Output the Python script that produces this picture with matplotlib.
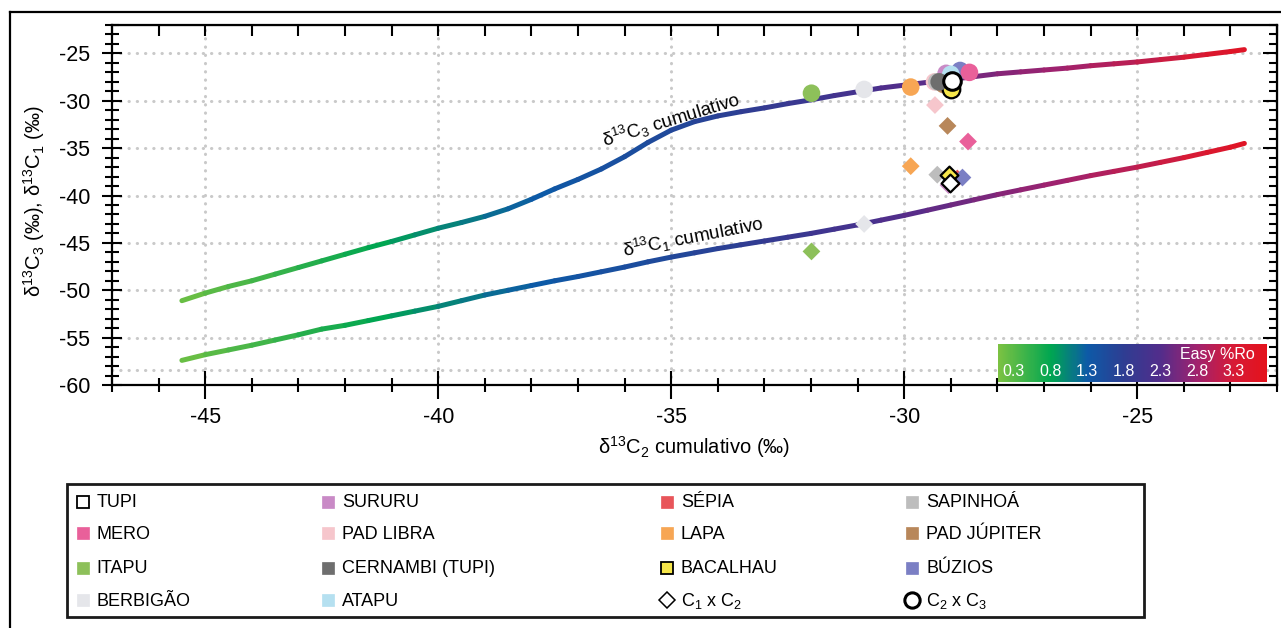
import numpy as np
import matplotlib
matplotlib.use('Agg')
import matplotlib.pyplot as plt
from matplotlib import font_manager
from matplotlib.collections import LineCollection
from matplotlib.colors import LinearSegmentedColormap, Normalize
from matplotlib.cm import ScalarMappable

# curvas cumulativas: d13C2 no eixo x, d13C3 e d13C1 no eixo y
c2_curve = [-45.5, -45.0, -44.5, -44.0, -43.5, -43.0, -42.5, -42.0, -41.5, -41.0,
            -40.5, -40.0, -39.5, -39.0, -38.5, -38.0, -37.5, -37.0, -36.5, -36.0,
            -35.5, -35.0, -34.5, -34.0, -33.5, -33.0, -32.5, -32.0, -31.5, -31.0,
            -30.5, -30.0, -29.5, -29.0, -28.5, -28.0, -27.5, -27.0, -26.5, -26.0,
            -25.5, -25.0, -24.5, -24.0, -23.5, -23.0, -22.7]
c3_curve = [-51.1, -50.3, -49.6, -49.0, -48.3, -47.6, -46.9, -46.2, -45.5, -44.85,
            -44.15, -43.45, -42.85, -42.2, -41.4, -40.4, -39.3, -38.3, -37.2, -35.9,
            -34.4, -33.1, -32.2, -31.6, -31.15, -30.75, -30.3, -29.9, -29.45, -29.05,
            -28.65, -28.35, -28.05, -27.75, -27.45, -27.15, -26.95, -26.75, -26.55, -26.3,
            -26.1, -25.9, -25.65, -25.4, -25.1, -24.8, -24.6]
c1_curve = [-57.4, -56.8, -56.3, -55.8, -55.25, -54.7, -54.1, -53.7, -53.2, -52.7,
            -52.2, -51.7, -51.1, -50.5, -50.0, -49.5, -49.0, -48.55, -48.05, -47.55,
            -47.0, -46.5, -46.05, -45.6, -45.2, -44.8, -44.4, -44.0, -43.55, -43.1,
            -42.6, -42.1, -41.55, -41.0, -40.45, -39.9, -39.4, -38.9, -38.4, -37.9,
            -37.45, -37.0, -36.5, -36.0, -35.45, -34.9, -34.5]
ro_curve = [0.15, 0.25, 0.32, 0.4, 0.47, 0.55, 0.62, 0.7, 0.77, 0.85,
            0.92, 1.0, 1.07, 1.15, 1.22, 1.28, 1.34, 1.4, 1.45, 1.5,
            1.55, 1.6, 1.66, 1.72, 1.79, 1.86, 1.93, 2.0, 2.08, 2.15,
            2.22, 2.3, 2.37, 2.45, 2.52, 2.6, 2.67, 2.75, 2.82, 2.9,
            2.97, 3.05, 3.15, 3.25, 3.37, 3.5, 3.6]

fields = ['TUPI', 'SURURU', 'SÉPIA', 'SAPINHOÁ', 'MERO', 'PAD LIBRA', 'LAPA',
          'PAD JÚPITER', 'ITAPU', 'CERNAMBI (TUPI)', 'BACALHAU', 'BÚZIOS',
          'BERBIGÃO', 'ATAPU']
field_colors = ['#ffffff', '#c98ac6', '#e8555a', '#bdbdbd', '#e9609a', '#f6c6cc',
                '#f7a654', '#b8875a', '#8dc05a', '#6e6e6e', '#f6e64a', '#7b7fc4',
                '#e5e6ea', '#b5e0f0']
edge_fields = ['TUPI', 'BACALHAU']

# C2 x C3 (circulos)
c2c3_x = [-28.98, -29.1, -29.05, -29.3, -28.6, -29.35, -29.86, -29.15, -31.99, -29.25,
          -29.0, -28.8, -30.86, -29.0]
c2c3_y = [-27.9, -27.1, -27.3, -28.0, -27.0, -28.0, -28.55, -28.3, -29.2, -28.0,
          -28.75, -26.8, -28.8, -27.2]
# C1 x C2 (losangos)
c1c2_x = [-29.02, -29.05, -28.86, -29.29, -28.63, -29.34, -29.86, -29.07, -31.99, -29.0,
          -29.04, -28.75, -30.86, -29.0]
c1c2_y = [-38.7, -38.9, -38.2, -37.8, -34.3, -30.45, -36.9, -32.65, -45.9, -38.5,
          -37.85, -38.1, -43.0, -38.4]
circle_order = ['SÉPIA', 'SURURU', 'BÚZIOS', 'MERO', 'ATAPU', 'PAD LIBRA', 'SAPINHOÁ',
                'PAD JÚPITER', 'BACALHAU', 'CERNAMBI (TUPI)', 'TUPI', 'ITAPU',
                'BERBIGÃO', 'LAPA']
diamond_order = ['ATAPU', 'CERNAMBI (TUPI)', 'SURURU', 'SAPINHOÁ', 'SÉPIA', 'BÚZIOS',
                 'BACALHAU', 'TUPI', 'MERO', 'PAD LIBRA', 'LAPA', 'PAD JÚPITER',
                 'ITAPU', 'BERBIGÃO']

ro_ticks = [0.3, 0.8, 1.3, 1.8, 2.3, 2.8, 3.3]
ro_stops = [0.08, 0.8, 1.3, 1.8, 2.3, 2.8, 3.3, 3.75]
ro_colors = ['#7cc242', '#00a651', '#0d5aa7', '#2e3d92', '#522d8b', '#a0226e',
             '#d71a36', '#e4121c']

legend_cols = [['TUPI', 'MERO', 'ITAPU', 'BERBIGÃO'],
               ['SURURU', 'PAD LIBRA', 'CERNAMBI (TUPI)', 'ATAPU'],
               ['SÉPIA', 'LAPA', 'BACALHAU', 'C1xC2'],
               ['SAPINHOÁ', 'PAD JÚPITER', 'BÚZIOS', 'C2xC3']]

names = {f.name for f in font_manager.fontManager.ttflist}
narrow = 'Liberation Sans Narrow' if 'Liberation Sans Narrow' in names else 'Liberation Sans'
plt.rcParams['font.family'] = ['Liberation Sans', 'DejaVu Sans']
plt.rcParams['mathtext.fontset'] = 'custom'
plt.rcParams['mathtext.rm'] = 'Liberation Sans'
plt.rcParams['mathtext.it'] = 'Liberation Sans:italic'
plt.rcParams['mathtext.bf'] = 'Liberation Sans:bold'
plt.rcParams['axes.unicode_minus'] = False

W, H = 1281, 628
fig = plt.figure(figsize=(W / 100, H / 100), dpi=100)
ax = fig.add_axes([112 / W, 1 - 385 / H, 1165 / W, 360 / H])
ax.set_xlim(-47, -22)
ax.set_ylim(-60, -22)

cmap = LinearSegmentedColormap.from_list(
    'easyro', [((r - ro_stops[0]) / (ro_stops[-1] - ro_stops[0]), c) for r, c in zip(ro_stops, ro_colors)])
norm = Normalize(ro_stops[0], ro_stops[-1])

# grade pontilhada
gkw = dict(color='#c9c9c9', lw=2.2, linestyle=(0, (0.1, 2.6)), dash_capstyle='round', zorder=0)
ax.set_xticks(np.arange(-45, -24, 5))
ax.set_yticks(np.arange(-60, -24, 5))
ax.set_xticks(np.arange(-47, -21, 1), minor=True)
ax.set_yticks(np.arange(-60, -21, 1), minor=True)
for v in np.arange(-45, -24, 5):
    ax.axvline(v, **gkw)
for v in np.arange(-55, -24, 5):
    ax.axhline(v, **gkw)
ax.axhline(-58.4, **gkw)

ro = np.array(ro_curve)
ro_mid = (ro[:-1] + ro[1:]) / 2
for yc in (c3_curve, c1_curve):
    pts = np.column_stack([c2_curve, yc])
    segs = np.stack([pts[:-1], pts[1:]], axis=1)
    lc = LineCollection(segs, cmap=cmap, norm=norm, linewidths=3.6, capstyle='round',
                        joinstyle='round', zorder=2)
    lc.set_array(ro_mid)
    ax.add_collection(lc)

z = 3
for f in diamond_order:
    i = fields.index(f)
    ec = 'k' if f in edge_fields else 'none'
    ax.scatter(c1c2_x[i], c1c2_y[i], s=82, marker='D', c=field_colors[i],
               edgecolors=ec, linewidths=1.6, zorder=z)
    z += 0.01
for f in circle_order:
    i = fields.index(f)
    ec = 'k' if f in edge_fields else 'none'
    lw = 2.2 if f == 'TUPI' else 1.6
    ax.scatter(c2c3_x[i], c2c3_y[i], s=160, marker='o', c=field_colors[i],
               edgecolors=ec, linewidths=lw, zorder=z)
    z += 0.01

ax.text(-35.0, -32.05, r'δ$^{13}$C$_3$ cumulativo', rotation=17, fontsize=13.5,
        ha='center', va='center', rotation_mode='anchor')
ax.text(-34.54, -44.36, r'δ$^{13}$C$_1$ cumulativo', rotation=11, fontsize=13.5,
        ha='center', va='center', rotation_mode='anchor')

for s in ax.spines.values():
    s.set_linewidth(1.6)
ax.tick_params(axis='x', which='major', direction='inout', length=20, width=1.5,
               labelsize=15.5, pad=6)
ax.tick_params(axis='x', which='minor', direction='inout', length=10, width=1.5)
ax.tick_params(axis='y', which='major', direction='inout', length=15, width=1.5,
               labelsize=15.5, pad=8)
ax.tick_params(axis='y', which='minor', direction='inout', length=10, width=1.5)

top = ax.secondary_xaxis('top')
top.set_xticks(np.arange(-47, -21, 1))
top.tick_params(direction='in', length=8, width=1.5, labeltop=False)
right = ax.secondary_yaxis('right')
right.set_yticks(np.arange(-60, -24, 5))
right.set_yticks(np.arange(-60, -21, 1), minor=True)
right.tick_params(which='major', direction='in', length=10, width=1.5, labelright=False)
right.tick_params(which='minor', direction='in', length=6, width=1.5)

ax.set_xlabel(r'δ$^{13}$C$_2$ cumulativo (‰)', fontsize=14.5)
ax.xaxis.set_label_coords(0.5, -0.135)
ax.set_ylabel(r'δ$^{13}$C$_3$ (‰), δ$^{13}$C$_1$ (‰)', fontsize=14.5)
ax.yaxis.set_label_coords(-0.056, 0.51)

# barra de cor Easy %Ro
cax = ax.inset_axes([-27.99, -59.68, 5.77, 4.01], transform=ax.transData, zorder=5)
cb = fig.colorbar(ScalarMappable(norm=norm, cmap=cmap), cax=cax, orientation='horizontal')
cb.outline.set_visible(False)
cax.set_xticks([])
cax.set_yticks([])
cax.tick_params(length=0)
for t in ro_ticks:
    cax.text(t, 0.27, f'{t:.1f}', color='white', fontsize=11.5, ha='center', va='center')
cax.text(3.58, 0.73, 'Easy %Ro', color='white', fontsize=11.5, ha='right', va='center')

# moldura e legenda
ov = fig.add_axes([0, 0, 1, 1], zorder=10)
ov.set_xlim(0, W)
ov.set_ylim(H, 0)
ov.axis('off')
ov.plot([10, W + 5], [12, 12], color='k', lw=1.6, solid_capstyle='projecting')
ov.plot([10, 10], [12, H + 5], color='k', lw=1.6, solid_capstyle='projecting')
ov.add_patch(plt.Rectangle((67, 483.5), 1077, 133, fill=False, ec='#1a1a1a', lw=2))

col_x = [82.7, 328, 667, 912]
row_y = [501.7, 533.3, 567.7, 600]
lfs = 12.7 if narrow != 'Liberation Sans' else 13
for cx, names_col in zip(col_x, legend_cols):
    for ry, name in zip(row_y, names_col):
        if name == 'C1xC2':
            ov.plot(cx, ry, marker='D', ms=8, mfc='white', mec='k', mew=1.1)
            label = r'C$_1$ x C$_2$'
        elif name == 'C2xC3':
            ov.plot(cx, ry, marker='o', ms=11, mfc='white', mec='k', mew=2.2)
            label = r'C$_2$ x C$_3$'
        else:
            i = fields.index(name)
            ec = 'k' if name in edge_fields else field_colors[i]
            ov.plot(cx, ry, marker='s', ms=8.5, mfc=field_colors[i], mec=ec,
                    mew=1.3 if name in edge_fields else 0.5)
            label = name
        ov.text(cx + 14, ry + 1, label, fontsize=lfs, family=[narrow, 'DejaVu Sans'],
                ha='left', va='center')

fig.savefig('out.png', dpi=100)
